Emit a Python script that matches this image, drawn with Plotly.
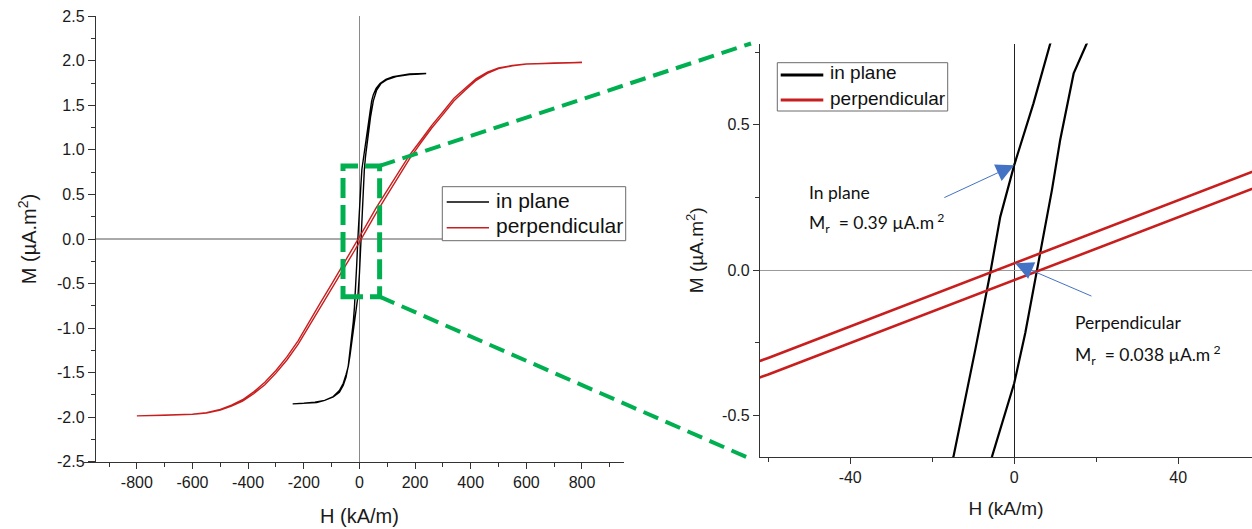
import plotly.graph_objects as go

W, HPX = 1252, 529

# ---------------- data ----------------
# In-plane loop (black): descending branch, then ascending branch
inplane_down_H = [240, 180, 121, 95, 74, 60, 50, 44, 38, 32, 26, 20, 14, 8.8, 4.7, 0, -3.4,
                  -5.85, -9.5, -14.8, -18, -22, -28, -34, -40, -48, -58, -72, -94, -125, -160,
                  -200, -240]
inplane_down_M = [1.857, 1.852, 1.822, 1.79, 1.745, 1.69, 1.62, 1.55, 1.42, 1.28, 1.15, 1.02,
                  0.90, 0.78, 0.574, 0.361, 0.183, -0.011, -0.275, -0.642, -0.77, -0.93, -1.12,
                  -1.28, -1.42, -1.55, -1.64, -1.72, -1.77, -1.81, -1.83, -1.842, -1.848]
inplane_up_H = [-240, -200, -154, -125, -94, -72, -58, -48, -40, -34, -28, -22, -16, -12, -8.8,
                -5.4, 0, 2.7, 5.5, 9.2, 11.2, 14.5, 17.7, 22, 28, 34, 40, 50, 62, 78, 100, 132,
                180, 240]
inplane_up_M = [-1.85, -1.845, -1.835, -1.81, -1.768, -1.70, -1.618, -1.52, -1.43, -1.31,
                -1.17, -1.03, -0.90, -0.83, -0.78, -0.642, -0.39, -0.217, 0.0, 0.275, 0.447,
                0.677, 0.78, 0.93, 1.10, 1.25, 1.37, 1.55, 1.67, 1.745, 1.79, 1.822, 1.845,
                1.853]

# Perpendicular loop (red): descending branch, then ascending branch
perp_down_H = [800, 700, 600, 550, 500, 460, 420, 380, 340, 300, 260, 220, 180, 140, 100, 60,
               20, 0, -20, -60, -100, -140, -180, -220, -260, -300, -340, -380, -420, -460,
               -500, -550, -600, -700, -800]
perp_down_M = [1.98, 1.975, 1.964, 1.947, 1.919, 1.871, 1.80, 1.692, 1.58, 1.425, 1.275, 1.105,
               0.94, 0.745, 0.545, 0.349, 0.131, 0.023, -0.086, -0.303, -0.507, -0.715, -0.935,
               -1.14, -1.32, -1.475, -1.608, -1.715, -1.803, -1.864, -1.912, -1.948, -1.965,
               -1.977, -1.982]
perp_up_H = [-800, -700, -600, -550, -500, -460, -420, -380, -340, -300, -260, -220, -180,
             -140, -100, -60, -20, 0, 20, 60, 100, 140, 180, 220, 260, 300, 340, 380, 420, 460,
             500, 550, 600, 700, 800]
perp_up_M = [-1.984, -1.979, -1.968, -1.953, -1.919, -1.874, -1.818, -1.736, -1.635, -1.505,
             -1.355, -1.18, -0.975, -0.765, -0.555, -0.36, -0.143, -0.035, 0.075, 0.29, 0.495,
             0.695, 0.90, 1.075, 1.245, 1.395, 1.55, 1.668, 1.78, 1.859, 1.911, 1.943, 1.962,
             1.974, 1.98]

series_names = ["in plane", "perpendicular"]

# axis windows and tick labels
full_H_range = [-990, 951]
yaxis_at_H = -951          # where the overview M axis crosses the H axis
full_M_range = [-2.502, 2.502]
full_H_ticks = [-800, -600, -400, -200, 0, 200, 400, 600, 800]
full_H_labels = ["-800", "-600", "-400", "-200", "0", "200", "400", "600", "800"]
full_M_ticks = [-2.5, -2.0, -1.5, -1.0, -0.5, 0.0, 0.5, 1.0, 1.5, 2.0, 2.5]
full_M_labels = ["-2.5", "-2.0", "-1.5", "-1.0", "-0.5", "0.0", "0.5", "1.0", "1.5", "2.0", "2.5"]
zoom_H_range = [-62.0, 58.0]
zoom_M_range = [-0.644, 0.78]
zoom_H_ticks = [-40, 0, 40]
zoom_H_labels = ["-40", "0", "40"]
zoom_M_ticks = [-0.5, 0.0, 0.5]
zoom_M_labels = ["-0.5", "0.0", "0.5"]
# zoom box drawn on overview
box_H = [-59, 72.6]
box_M = [-0.647, 0.82]

# remanence annotations
rem_inplane = 0.361
rem_perp = 0.023

# ---------------- layout geometry ----------------
L_DOM_X = [84 / W, 624 / W]
L_DOM_Y = [1 - 462 / HPX, 1 - 16 / HPX]
R_DOM_X = [760 / W, 1.0]
R_DOM_Y = [1 - 457 / HPX, 1 - 43.5 / HPX]

GREEN = "#00b050"
RED = "#c81e1e"
BLUE = "#4472c4"
AX = "#333333"
FONT = "Liberation Sans, Arial"
TICKFONT = dict(family=FONT, size=16, color="#1a1a1a")
colors = ["black", RED]


def px_x(h, dom, rng):
    return dom[0] + (h - rng[0]) / (rng[1] - rng[0]) * (dom[1] - dom[0])


def px_y(m, dom, rng):
    return dom[0] + (m - rng[0]) / (rng[1] - rng[0]) * (dom[1] - dom[0])


def PX(x):
    return x / W


def PY(y):
    return 1 - y / HPX


fig = go.Figure()

loopH_in = inplane_down_H + inplane_up_H
loopM_in = inplane_down_M + inplane_up_M
loopH_pp = perp_down_H + perp_up_H
loopM_pp = perp_down_M + perp_up_M

# overview
fig.add_trace(go.Scatter(x=loopH_in, y=loopM_in, mode="lines", name=series_names[0],
                         line=dict(color=colors[0], width=1.4), xaxis="x", yaxis="y"))
fig.add_trace(go.Scatter(x=loopH_pp, y=loopM_pp, mode="lines", name=series_names[1],
                         line=dict(color=colors[1], width=1.4), xaxis="x", yaxis="y"))
# zoom
fig.add_trace(go.Scatter(x=loopH_in, y=loopM_in, mode="lines", name=series_names[0],
                         line=dict(color=colors[0], width=2.2), xaxis="x2", yaxis="y2"))
fig.add_trace(go.Scatter(x=loopH_pp, y=loopM_pp, mode="lines", name=series_names[1],
                         line=dict(color=colors[1], width=2.6), xaxis="x2", yaxis="y2"))


def axis_common():
    return dict(showline=True, linecolor=AX, linewidth=1.2, ticks="outside", tickcolor=AX,
                tickwidth=1.2, showgrid=False, tickfont=TICKFONT, zeroline=True,
                zerolinewidth=1, automargin=False, tickmode="array")


fig.update_layout(
    width=W, height=HPX, margin=dict(l=0, r=0, t=0, b=0, autoexpand=False),
    paper_bgcolor="white", plot_bgcolor="white", showlegend=False,
    xaxis=dict(axis_common(), domain=L_DOM_X, range=full_H_range, anchor="y",
               tickvals=full_H_ticks, ticktext=full_H_labels, ticklen=6,
               zerolinecolor="#8a8a8a",
               minor=dict(dtick=100, tick0=0, ticks="outside", ticklen=4, tickcolor=AX)),
    yaxis=dict(axis_common(), domain=L_DOM_Y, range=full_M_range, anchor="free",
               position=px_x(yaxis_at_H, L_DOM_X, full_H_range),
               tickvals=full_M_ticks, ticktext=full_M_labels, ticklen=7, zeroline=False,
               minor=dict(dtick=0.25, tick0=0, ticks="outside", ticklen=4, tickcolor=AX),
               title=dict(text="M (µA.m<sup>2</sup>)",
                          font=dict(family=FONT, size=20, color="#1a1a1a"), standoff=13)),
    xaxis2=dict(axis_common(), domain=R_DOM_X, range=zoom_H_range, anchor="y2",
                tickvals=zoom_H_ticks, ticktext=zoom_H_labels, ticklen=6,
                zerolinecolor="#222222",
                minor=dict(dtick=20, tick0=0, ticks="outside", ticklen=4, tickcolor=AX),
                title=dict(text="H (kA/m)", font=dict(family=FONT, size=19, color="#1a1a1a"),
                           standoff=16)),
    yaxis2=dict(axis_common(), domain=R_DOM_Y, range=zoom_M_range, anchor="x2",
                tickvals=zoom_M_ticks, ticktext=zoom_M_labels, ticklen=6,
                zerolinecolor="#9a9a9a",
                minor=dict(dtick=0.25, tick0=0, ticks="outside", ticklen=4, tickcolor=AX),
                title=dict(text="M (µA.m<sup>2</sup>)",
                           font=dict(family=FONT, size=19, color="#1a1a1a"), standoff=13)),
)

# overview H-axis title, centred under H = 0 as in the original
fig.add_annotation(x=0, xref="x", y=PY(516), yref="paper", text="H (kA/m)", showarrow=False,
                   xanchor="center", yanchor="middle", borderpad=0,
                   font=dict(family=FONT, size=20, color="#1a1a1a"))

# horizontal zero line of the overview, starting at the M axis
fig.add_shape(type="line", xref="x", yref="y", x0=yaxis_at_H, x1=full_H_range[1], y0=0, y1=0,
              line=dict(color="#555555", width=1), layer="below")

# zoom box on overview
fig.add_shape(type="rect", xref="x", yref="y", x0=box_H[0], x1=box_H[1], y0=box_M[0],
              y1=box_M[1], line=dict(color=GREEN, width=5, dash="20px,7px"), layer="above")

# connectors from box corners to zoom panel corners
bx = px_x(box_H[1], L_DOM_X, full_H_range)
by_top = px_y(box_M[1], L_DOM_Y, full_M_range)
by_bot = px_y(box_M[0], L_DOM_Y, full_M_range)
rx = R_DOM_X[0] - 9 / W
fig.add_shape(type="line", xref="paper", yref="paper", x0=bx, y0=by_top, x1=rx,
              y1=R_DOM_Y[1], line=dict(color=GREEN, width=4, dash="16px,8px"), layer="above")
fig.add_shape(type="line", xref="paper", yref="paper", x0=bx, y0=by_bot, x1=rx,
              y1=R_DOM_Y[0] - 2 / HPX, line=dict(color=GREEN, width=4, dash="16px,8px"),
              layer="above")


# legends (box, line samples, labels)
def legend_box(x0, y0, x1, y1, rows, sx0, sx1, tx, lw, fsize):
    fig.add_shape(type="rect", xref="paper", yref="paper", x0=PX(x0), x1=PX(x1), y0=PY(y1),
                  y1=PY(y0), line=dict(color="#6b6b6b", width=1), fillcolor="white",
                  layer="above")
    for i, ry in enumerate(rows):
        fig.add_shape(type="line", xref="paper", yref="paper", x0=PX(sx0), x1=PX(sx1),
                      y0=PY(ry), y1=PY(ry), line=dict(color=colors[i], width=lw),
                      layer="above")
        fig.add_annotation(x=PX(tx), y=PY(ry - 2), xref="paper", yref="paper",
                           text=series_names[i], showarrow=False, xanchor="left",
                           yanchor="middle", borderpad=0,
                           font=dict(family=FONT, size=fsize, color="#111111"))


legend_box(442.3, 186.7, 625.7, 240.7, [202, 227.7], 446.7, 489, 495, 1.5, 21)
legend_box(777.3, 62.7, 947.7, 111, [75, 100], 780.7, 823.3, 828.5, 3, 19)

# annotations in zoom panel
NOTEFONT = dict(family="Lato, Open Sans", size=17.5, color="#111111")
notes = [
    (-50.4, 0.268, "In plane"),
    (-50.4, 0.162, "M<sub>r</sub>\u00a0\u00a0= 0.39 µA.m<sup>\u00a02</sup>"),
    (14.6, -0.182, "Perpendicular"),
    (14.6, -0.2925, "M<sub>r</sub>\u00a0\u00a0= 0.038 µA.m<sup>\u00a02</sup>"),
]
for hx, my, txt in notes:
    fig.add_annotation(x=hx, y=my, xref="x2", yref="y2", text=txt, showarrow=False,
                       xanchor="left", yanchor="middle", font=NOTEFONT, borderpad=0)

fig.add_annotation(x=0, y=rem_inplane, xref="x2", yref="y2", ax=-17.4, ay=0.247,
                   axref="x2", ayref="y2", text="", showarrow=True, arrowhead=2,
                   arrowsize=3.6, arrowwidth=1, arrowcolor=BLUE)
fig.add_annotation(x=0.24, y=rem_perp, xref="x2", yref="y2", ax=19.2, ay=-0.092,
                   axref="x2", ayref="y2", text="", showarrow=True, arrowhead=2,
                   arrowsize=3.6, arrowwidth=1, arrowcolor=BLUE)

fig.write_html("out.html", config={"displayModeBar": False},
               post_script="document.body.style.margin='0';")
